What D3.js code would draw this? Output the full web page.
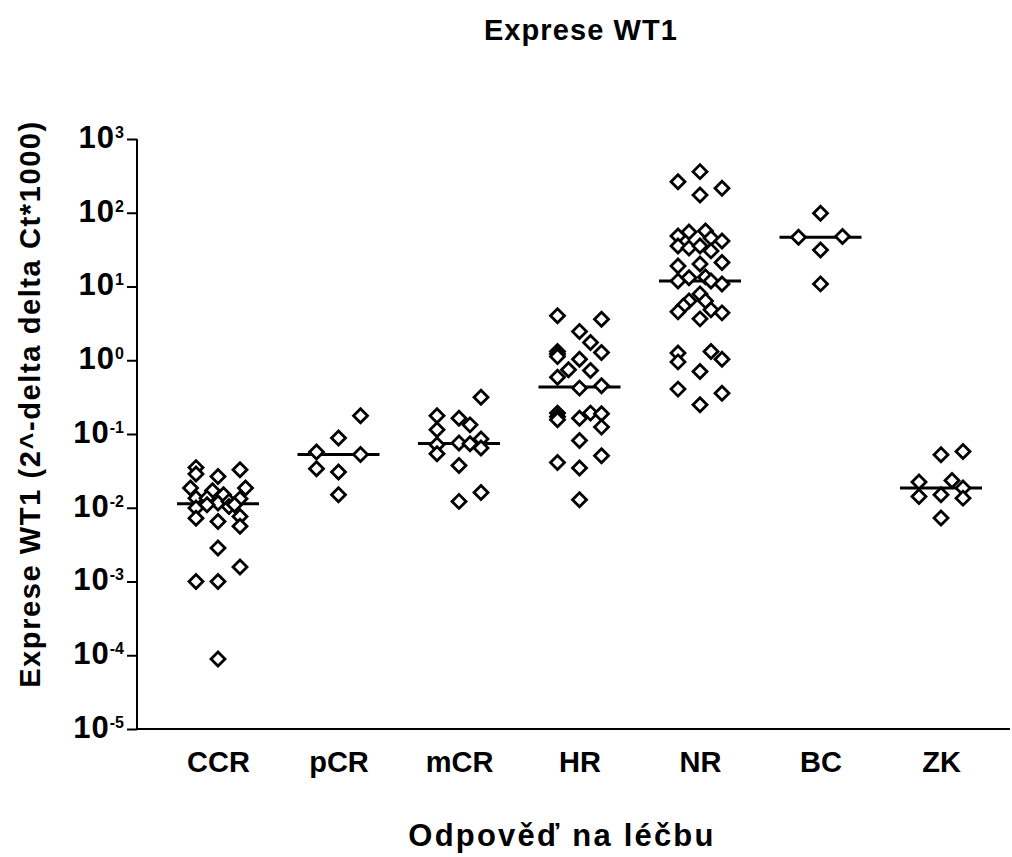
<!DOCTYPE html>
<html>
<head>
<meta charset="utf-8">
<script src="https://cdn.jsdelivr.net/npm/d3@7"></script>
<style>
  body { margin: 0; background: #fff; }
  text { font-family: "Liberation Sans", Arial, sans-serif; font-weight: bold; fill: #000; }
</style>
</head>
<body>
<svg id="chart" width="1012" height="857"></svg>
<script>
const categories = ['CCR', 'pCR', 'mCR', 'HR', 'NR', 'BC', 'ZK'];
const tickExponents = [-5, -4, -3, -2, -1, 0, 1, 2, 3];

// [value, lane] — lane is the horizontal jitter slot of each point
const ccr = [[0.035, -4], [0.0286, -4], [0.0266, 0], [0.0327, 4], [0.0185, -5], [0.017, -1], [0.015, 1],
  [0.0185, 5], [0.0135, -4], [0.0135, -2], [0.0116, 0], [0.0122, 2], [0.0132, 4], [0.0099, -4],
  [0.011, -2], [0.0104, 2], [0.011, 3], [0.0072, -4], [0.0065, 0], [0.0076, 4], [0.0056, 4],
  [0.00284, 0], [0.00157, 4], [0.001, -4], [0.001, 0], [0.000089, 0]];
const pcr = [[0.177, 4], [0.088, 0], [0.0569, -4], [0.0528, 4], [0.0338, -4], [0.0305, 0], [0.015, 0]];
const mcr = [[0.316, 4], [0.177, -4], [0.164, 0], [0.133, 2], [0.114, -4], [0.0714, -4], [0.0753, 0],
  [0.0737, 2], [0.0853, 4], [0.0644, 4], [0.054, -4], [0.0374, 0], [0.0122, 0], [0.0161, 4]];
const hr = [[4.0, -4], [3.6, 4], [2.45, 0], [1.74, 2], [1.27, 4], [1.31, -4], [1.22, -4], [1.12, -4],
  [1.03, 0], [0.741, -2], [0.725, 2], [0.59, -4], [0.419, 0], [0.45, 4], [0.192, -4], [0.171, -4],
  [0.156, -4], [0.164, 0], [0.192, 2], [0.188, 4], [0.124, 4], [0.0816, 0], [0.0411, -4], [0.0345, 0],
  [0.0507, 4], [0.0128, 0]];
const nr = [[264, -4], [361, 0], [174, 0], [215, 4], [48.5, -4], [55, -2], [56.7, 1], [45.6, 2],
  [41.5, 4], [35.5, -4], [33.3, -2], [35.5, 0], [30.4, 2], [19, -4], [21.2, 4], [20.2, 0], [11.9, -4],
  [13.1, -2], [13.5, 1], [11.9, 2], [10.8, 4], [7.94, 0], [6.38, 1], [6.38, -2], [5.46, -3], [4.53, -4],
  [4.82, 2], [4.39, 4], [3.64, 0], [1.25, -4], [0.95, -4], [1.31, 2], [1.03, 4], [0.703, 0],
  [0.406, -4], [0.358, 4], [0.249, 0]];
const bc = [[98.4, 0], [46.6, -4], [47.5, 4], [31.3, 0], [10.85, 0]];
const zk = [[0.0523, 0], [0.058, 4], [0.0223, -4], [0.0142, -4], [0.015, 0], [0.0234, 2], [0.0185, 4],
  [0.0135, 4], [0.00725, 0]];

const groups = [ccr, pcr, mcr, hr, nr, bc, zk];

const svg = d3.select('#chart');
const width = 1012, height = 857;
const axisLeftX = 137, axisRightX = 1010, yTop = 139, yBottom = 729;

const x = d3.scalePoint().domain(categories).range([218, 941]);
const y = d3.scaleLog().domain([1e-5, 1e3]).range([yBottom, yTop]);
const lane = d3.scaleLinear().domain([-1, 1]).range([-5.5, 5.5]);

svg.append('rect').attr('width', width).attr('height', height).attr('fill', '#fff');

// Title
svg.append('text')
  .attr('x', 581).attr('y', 40)
  .attr('text-anchor', 'middle')
  .attr('font-size', '29px')
  .attr('letter-spacing', '1.1px')
  .text('Exprese WT1');

// Median lines
const medianWidth = 82;
svg.append('g')
  .selectAll('line')
  .data(groups.map((g, i) => ({ cat: categories[i], med: d3.median(g, d => d[0]) })))
  .join('line')
  .attr('x1', d => x(d.cat) - medianWidth / 2)
  .attr('x2', d => x(d.cat) + medianWidth / 2)
  .attr('y1', d => y(d.med))
  .attr('y2', d => y(d.med))
  .attr('stroke', '#000')
  .attr('stroke-width', 3);

// Points
const points = groups.flatMap((g, i) => g.map(d => ({ cat: categories[i], value: d[0], lane: d[1] })));
const diamond = d3.symbol(d3.symbolSquare, 98);
svg.append('g')
  .selectAll('path')
  .data(points)
  .join('path')
  .attr('d', diamond)
  .attr('transform', d => `translate(${x(d.cat) + lane(d.lane)},${y(d.value)}) rotate(45)`)
  .attr('fill', '#fff')
  .attr('stroke', '#000')
  .attr('stroke-width', 2.8);

// Y axis
const yAxis = d3.axisLeft(y)
  .tickValues(tickExponents.map(e => Math.pow(10, e)))
  .tickSize(10)
  .tickPadding(3)
  .tickFormat('');

const yg = svg.append('g')
  .attr('transform', `translate(${axisLeftX},0)`)
  .call(yAxis);
yg.select('.domain').remove();
yg.selectAll('.tick line').attr('stroke', '#000').attr('stroke-width', 2);
yg.selectAll('.tick text')
  .attr('dy', '0.27em')
  .attr('font-size', '31px')
  .attr('letter-spacing', '1px')
  .each(function (d, i) {
    const t = d3.select(this);
    t.append('tspan').text('10');
    t.append('tspan').attr('dy', -10).attr('font-size', '16px').attr('letter-spacing', '0px')
      .text(String(tickExponents[i]));
  });

svg.append('line')
  .attr('x1', axisLeftX).attr('x2', axisLeftX)
  .attr('y1', yTop).attr('y2', yBottom)
  .attr('stroke', '#000').attr('stroke-width', 2);

// X axis (no ticks)
const xAxis = d3.axisBottom(x).tickSize(0).tickPadding(22);
const xg = svg.append('g')
  .attr('transform', `translate(0,${yBottom})`)
  .call(xAxis);
xg.select('.domain').remove();
xg.selectAll('.tick text').attr('font-size', '29px').attr('dy', '0.71em');

svg.append('line')
  .attr('x1', axisLeftX).attr('x2', axisRightX)
  .attr('y1', yBottom).attr('y2', yBottom)
  .attr('stroke', '#000').attr('stroke-width', 2);

// Axis titles
svg.append('text')
  .attr('x', 562).attr('y', 846)
  .attr('text-anchor', 'middle')
  .attr('font-size', '31px')
  .attr('letter-spacing', '2.2px')
  .text('Odpověď na léčbu');

svg.append('text')
  .attr('transform', 'translate(40,404) rotate(-90)')
  .attr('text-anchor', 'middle')
  .attr('font-size', '29px')
  .attr('letter-spacing', '1.6px')
  .text('Exprese WT1 (2^-delta delta Ct*1000)');
</script>
</body>
</html>
